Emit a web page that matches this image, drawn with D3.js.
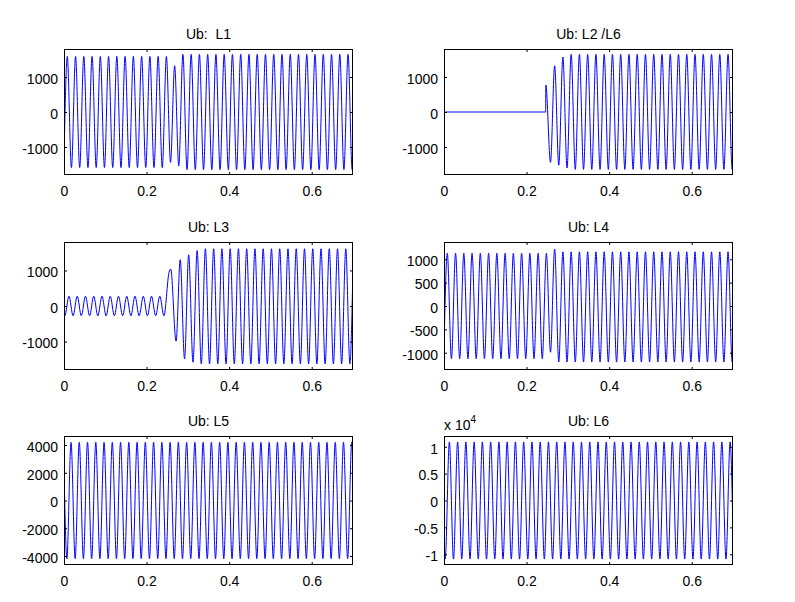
<!DOCTYPE html>
<html><head><meta charset="utf-8">
<script src="https://cdn.jsdelivr.net/npm/d3@7"></script>
<style>
body{margin:0;background:#fff}
text{font-family:"Liberation Sans",Arial,Helvetica,sans-serif}
</style>
</head><body>
<svg id="chart" width="795" height="602"></svg>
<script>
// ---------- shared ----------
const xDomain = [0, 0.7];
const xTickValues = [0, 0.2, 0.4, 0.6];
const halfPeriod = 0.01; // spacing of successive extrema (50 Hz)

// ---------- Ub: L1 ----------
const l1Title = "Ub:  L1";
const l1YDomain = [-1800, 1800];
const l1YTicks = [-1000, 0, 1000];
const l1Start = [0, -1290];
const l1FirstExtremum = 0.008;
const l1Extrema = [1590,-1590,1590,-1590,1590,-1590,1590,-1590,1590,-1590,1590,-1590,1590,-1590,1590,-1590,1590,-1590,1590,-1590,1590,-1590,1590,-1590,1590,
  -1440,1320,-1540,1650,
  -1650,1650,-1650,1650,-1650,1650,-1650,1650,-1650,1650,
  -1650,1650,-1650,1650,-1650,1650,-1650,1650,-1650,1650,
  -1650,1650,-1650,1650,-1650,1650,-1650,1650,-1650,1650,
  -1650,1650,-1650,1650,-1650,1650,-1650,1650,-1650,1650,
  -1650];
const l1End = [0.7, -1330];

// ---------- Ub: L2 /L6 ----------
const l2Title = "Ub: L2 /L6";
const l2YDomain = [-1800, 1800];
const l2YTicks = [-1000, 0, 1000];
const l2Before = [[0, 0], [0.2462, 0], [0.2466, 770]];
const l2FirstExtremum = 0.258;
const l2Extrema = [-1440,1320,-1520,1570,-1600,1650,
  -1640,1650,-1640,1650,-1640,1650,-1640,1650,-1640,1650,
  -1640,1650,-1640,1650,-1640,1650,-1640,1650,-1640,1650,
  -1640,1650,-1640,1650,-1640,1650,-1640,1650,-1640,1650,
  -1640,1650,-1640,1650,-1640,1650,-1640,1650,
  -1640];
const l2End = [0.7, -1310];

// ---------- Ub: L3 ----------
const l3Title = "Ub: L3";
const l3YDomain = [-1800, 1800];
const l3YTicks = [-1000, 0, 1000];
const l3Start = [0, -200];
const l3FirstSmall = 0.002;
const l3Small = [-275,275,-275,275,-275,275,-275,275,-275,275,-275,275,-275,275,-275,275,-275,275,-275,275,-275,275,-275,275,-275];
const l3TransientTimes = [0.2545, 0.2585, 0.2715, 0.2815, 0.292, 0.302, 0.3125];
const l3TransientValues = [950, 1040, -990, 1300, -1490, 1440, -1580];
const l3FirstSteady = 0.3225;
const l3Steady = [1560,-1630,1610,-1630,1610,-1630,1610,-1630,1610,-1630,
  1610,-1630,1610,-1630,1610,-1630,1610,-1630,1610,-1630,
  1610,-1630,1610,-1630,1610,-1630,1610,-1630,1610,-1630,
  1610,-1630,1610,-1630,1610,-1630,1610,-1630];
const l3End = [0.7, 1140];

// ---------- Ub: L4 ----------
const l4Title = "Ub: L4";
const l4YDomain = [-1370, 1370];
const l4YTicks = [-1000, -500, 0, 500, 1000];
const l4Start = [0, -915];
const l4FirstExtremum = 0.008;
const l4Extrema = [1130,-1130,1130,-1130,1130,-1130,1130,-1130,1130,-1130,1130,-1130,1130,-1130,1130,-1130,1130,-1130,1130,-1130,1130,-1130,1130,-1130,1130,
  -990,1220,
  -1200,1160,-1200,1160,-1200,1160,-1200,1160,-1200,1160,
  -1200,1160,-1200,1160,-1200,1160,-1200,1160,-1200,1160,
  -1200,1160,-1200,1160,-1200,1160,-1200,1160,-1200,1160,
  -1200,1160,-1200,1160,-1200,1160,-1200,1160,-1200,1160,
  -1200,1160,-1200];
const l4End = [0.7, -970];

// ---------- Ub: L5 ----------
const l5Title = "Ub: L5";
const l5YDomain = [-4650, 4650];
const l5YTicks = [-4000, -2000, 0, 2000, 4000];
const l5Start = [0, 2400];
const l5FirstExtremum = 0.007;
const l5Extrema = [-4200,4200,-4200,4200,-4200,4200,-4200,4200,-4200,4200,
  -4200,4200,-4200,4200,-4200,4200,-4200,4200,-4200,4200,
  -4200,4200,-4200,4200,-4200,4200,-4200,4200,-4200,4200,
  -4200,4200,-4200,4200,-4200,4200,-4200,4200,-4200,4200,
  -4200,4200,-4200,4200,-4200,4200,-4200,4200,-4200,4200,
  -4200,4200,-4200,4200,-4200,4200,-4200,4200,-4200,4200,
  -4200,4200,-4200,4200,-4200,4200,-4200,4200,-4200,4200];
const l5End = [0.7, 2470];

// ---------- Ub: L6 ----------
const l6Title = "Ub: L6";
const l6YDomain = [-12000, 12000];
const l6YTicks = [-10000, -5000, 0, 5000, 10000];
const l6Start = [0, -6400];
const l6FirstExtremum = 0.003;
const l6Extrema = [-10900,10900,-10900,10900,-10900,10900,-10900,10900,-10900,10900,
  -10900,10900,-10900,10900,-10900,10900,-10900,10900,-10900,10900,
  -10900,10900,-10900,10900,-10900,10900,-10900,10900,-10900,10900,
  -10900,10900,-10900,10900,-10900,10900,-10900,10900,-10900,10900,
  -10900,10900,-10900,10900,-10900,10900,-10900,10900,-10900,10900,
  -10900,10900,-10900,10900,-10900,10900,-10900,10900,-10900,10900,
  -10900,10900,-10900,10900,-10900,10900,-10900,10900,-10900,10900];
const l6End = [0.7, -6400];

// ---------- build point lists ----------
const seq = (first, vals) => vals.map((v, i) => [first + i * halfPeriod, v]);
const l1Pts = [l1Start, ...seq(l1FirstExtremum, l1Extrema), l1End];
const l2Pts = [...l2Before, ...seq(l2FirstExtremum, l2Extrema), l2End];
const l3Pts = [l3Start, ...seq(l3FirstSmall, l3Small),
  ...l3TransientTimes.map((t, i) => [t, l3TransientValues[i]]),
  ...seq(l3FirstSteady, l3Steady), l3End];
const l4Pts = [l4Start, ...seq(l4FirstExtremum, l4Extrema), l4End];
const l5Pts = [l5Start, ...seq(l5FirstExtremum, l5Extrema), l5End];
const l6Pts = [l6Start, ...seq(l6FirstExtremum, l6Extrema), l6End];

const panels = [
  {title:l1Title, yd:l1YDomain, yt:l1YTicks, pts:l1Pts, box:[64,353,49,175]},
  {title:l2Title, yd:l2YDomain, yt:l2YTicks, pts:l2Pts, box:[444,733,49,175]},
  {title:l3Title, yd:l3YDomain, yt:l3YTicks, pts:l3Pts, box:[64,353,242,370]},
  {title:l4Title, yd:l4YDomain, yt:l4YTicks, pts:l4Pts, box:[444,733,242,370]},
  {title:l5Title, yd:l5YDomain, yt:l5YTicks, pts:l5Pts, box:[64,353,436,565]},
  {title:l6Title, yd:l6YDomain, yt:l6YTicks, pts:l6Pts, box:[444,733,436,565], exp:4}
];

const svg = d3.select("#chart");
svg.append("rect").attr("width",795).attr("height",602).attr("fill","#fff");

panels.forEach((p, idx) => {
  const [x0, x1, y0, y1] = p.box;
  const x = d3.scaleLinear().domain(xDomain).range([x0, x1]);
  const y = d3.scaleLinear().domain(p.yd).range([y1, y0]);
  const g = svg.append("g");
  const clipId = "clip" + idx;
  g.append("clipPath").attr("id", clipId).append("rect")
    .attr("x", x0).attr("y", y0).attr("width", x1 - x0).attr("height", y1 - y0);

  const line = d3.line().x(d => x(d[0])).y(d => y(d[1])).curve(d3.curveMonotoneX);
  g.append("path").datum(p.pts).attr("d", line)
    .attr("fill", "none").attr("stroke", "#0000ff").attr("stroke-width", 1)
    .attr("clip-path", `url(#${clipId})`);

  const fmt = p.exp ? (v => String(v / Math.pow(10, p.exp))) : (v => String(v));

  const styleAxis = sel => {
    sel.select(".domain").remove();
    sel.selectAll("line").attr("stroke", "#000");
    sel.selectAll("text").attr("fill", "#000").style("font-size", "14px")
      .style("font-family", '"Liberation Sans", Arial, sans-serif');
  };

  g.append("g").attr("transform", `translate(0,${y1})`)
    .call(d3.axisBottom(x).tickValues(xTickValues).tickSize(-3).tickSizeOuter(0).tickPadding(11).tickFormat(d => String(d)))
    .call(styleAxis);
  g.append("g").attr("transform", `translate(0,${y0})`)
    .call(d3.axisTop(x).tickValues(xTickValues).tickSize(-3).tickSizeOuter(0).tickFormat(""))
    .call(styleAxis);
  g.append("g").attr("transform", `translate(${x0},0)`)
    .call(d3.axisLeft(y).tickValues(p.yt).tickSize(-3).tickSizeOuter(0).tickPadding(6).tickFormat(fmt))
    .call(styleAxis)
    .selectAll("text").attr("dy", "0.45em");
  g.append("g").attr("transform", `translate(${x1},0)`)
    .call(d3.axisRight(y).tickValues(p.yt).tickSize(-3).tickSizeOuter(0).tickFormat(""))
    .call(styleAxis);

  g.append("rect").attr("x", x0 + 0.5).attr("y", y0 + 0.5)
    .attr("width", x1 - x0 - 1).attr("height", y1 - y0 - 1)
    .attr("fill", "none").attr("stroke", "#000").attr("stroke-width", 1);

  g.append("text").attr("x", (x0 + x1) / 2).attr("y", y0 - 10)
    .attr("text-anchor", "middle").style("font-size", "14px").attr("fill", "#000")
    .style("white-space", "pre").attr("xml:space", "preserve")
    .text(p.title);

  if (p.exp) {
    const t = g.append("text").attr("x", x0).attr("y", y0 - 6).style("font-size", "14px").attr("fill", "#000");
    t.append("tspan").text("x 10");
    t.append("tspan").attr("dy", -7).style("font-size", "10px").text(String(p.exp));
  }
});
</script>
</body></html>
